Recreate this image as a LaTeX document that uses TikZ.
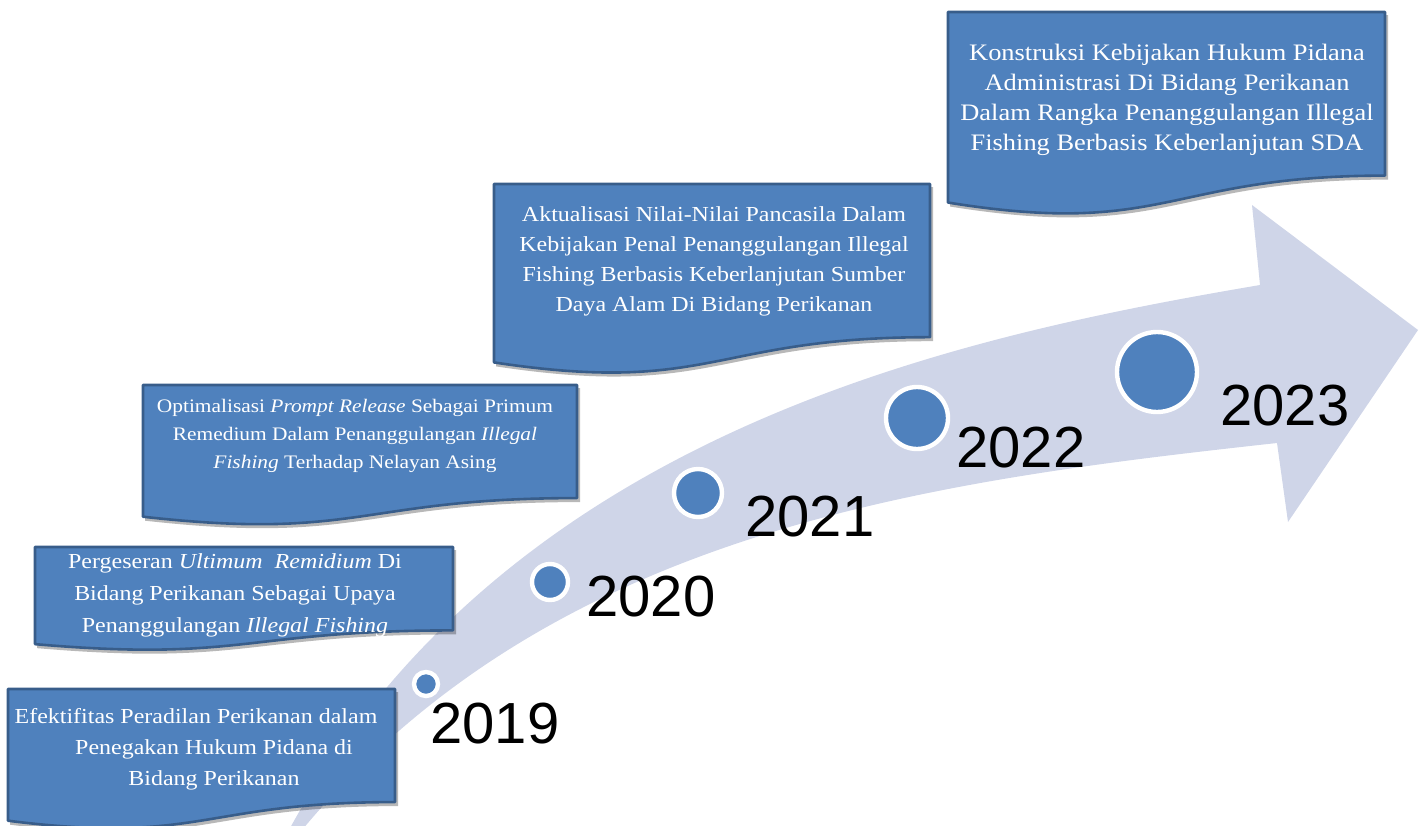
\documentclass[tikz,border=0pt]{standalone}
\usepackage{fontspec}
\setmainfont{Liberation Serif}
\newfontfamily\boxfont[FakeStretch=1.12]{Liberation Serif}
\newfontfamily\yearfont{Liberation Sans}
\definecolor{bandcol}{RGB}{207,213,232}
\definecolor{docblue}{RGB}{79,129,189}
\definecolor{docedge}{RGB}{56,93,138}
\tikzset{
  docbox/.style={fill=docblue,draw=docedge,line width=1.3pt,line join=round},
  docshadow/.style={fill=black,opacity=0.28},
  dot/.style={circle,fill=docblue,draw=white,line width=2.2pt,inner sep=0pt},
  year/.style={anchor=base west,inner sep=0pt,font=\yearfont\fontsize{29pt}{34pt}\selectfont},
  doctext/.style={anchor=north,inner sep=0pt,align=center,text=white}
}
\newcommand\wavedoc[4]{%
  \fill[docshadow] ({#1+2},{#2+3}) -- ({#3+3},{#2+3}) -- ({#3+3},{#2+4+0.802*#4})
    .. controls ({(#1+#3)/2+3},{#2+4+0.802*#4}) and ({(#1+#3)/2+3},{#2+4+1.107*#4})
    .. ({#1+2},{#2+4+0.934*#4}) -- cycle;
  \filldraw[docbox] (#1,#2) -- (#3,#2) -- (#3,{#2+0.802*#4})
    .. controls ({(#1+#3)/2},{#2+0.802*#4}) and ({(#1+#3)/2},{#2+1.107*#4})
    .. (#1,{#2+0.934*#4}) -- cycle;
}
\begin{document}
\begin{tikzpicture}[x=0.5pt,y=-0.5pt]
\useasboundingbox (0,0) rectangle (1424,825);
\begin{scope}
\clip (0,0) rectangle (1424,825);
% curved arrow band
\coordinate (tailA) at (281,845);
\coordinate (tailB) at (289,845);
\coordinate (upA) at (290,828);
\coordinate (upB) at (1260,285);
\coordinate (barbU) at (1252,205);
\coordinate (tip) at (1418,330);
\coordinate (barbL) at (1288,522);
\coordinate (loA) at (1277,443);
\coordinate (loB) at (302,830);
\fill[bandcol] (tailA) -- (upA) .. controls (510,430) and (960,336) .. (upB)
  -- (barbU) -- (tip) -- (barbL) -- (loA)
  .. controls (927,481.5) and (552,530) .. (loB) -- (tailB) -- cycle;
% boxes
\wavedoc{8}{689}{395}{141}
\wavedoc{35}{547}{453}{104}
\wavedoc{143}{385}{577}{141}
\wavedoc{494}{184}{930}{191}
\wavedoc{948}{12}{1385}{204}
\end{scope}
% milestones
\node[dot,minimum size=24pt/2] (c19) at (426,684) {};
\node[dot,minimum size=36pt/2] (c20) at (550,582) {};
\node[dot,minimum size=48pt/2] (c21) at (698,493) {};
\node[dot,minimum size=62pt/2] (c22) at (917,418) {};
\node[dot,minimum size=80pt/2] (c23) at (1157,372) {};
\node[year] (y19) at (430,743) {2019};
\node[year] (y20) at (586,616) {2020};
\node[year] (y21) at (745,536) {2021};
\node[year] (y22) at (956,467) {2022};
\node[year] (y23) at (1220,425) {2023};
% texts
\node[doctext,font=\boxfont\fontsize{10.7pt}{15.5pt}\selectfont] (t1) at (214,708)
  {\hspace*{-18pt}Efektifitas Peradilan Perikanan dalam\\Penegakan Hukum Pidana di\\Bidang Perikanan};
\node[doctext,font=\boxfont\fontsize{10.7pt}{16pt}\selectfont] (t2) at (235,553)
  {Pergeseran \textit{Ultimum\ \ Remidium} Di\\Bidang Perikanan Sebagai Upaya\\Penanggulangan \textit{Illegal Fishing}};
\node[doctext,font=\boxfont\fontsize{9.55pt}{14pt}\selectfont] (t3) at (355,399)
  {Optimalisasi \textit{Prompt Release} Sebagai Primum\\Remedium Dalam Penanggulangan \textit{Illegal}\\\textit{Fishing} Terhadap Nelayan Asing};
\node[doctext,font=\boxfont\fontsize{10.7pt}{15pt}\selectfont] (t4) at (714,206)
  {Aktualisasi Nilai-Nilai Pancasila Dalam\\Kebijakan Penal Penanggulangan Illegal\\Fishing Berbasis Keberlanjutan Sumber\\Daya Alam Di Bidang Perikanan};
\node[doctext,font=\boxfont\fontsize{11.8pt}{15pt}\selectfont] (t5) at (1167,44)
  {Konstruksi Kebijakan Hukum Pidana\\Administrasi Di Bidang Perikanan\\Dalam Rangka Penanggulangan Illegal\\Fishing Berbasis Keberlanjutan SDA};
\end{tikzpicture}
\end{document}
